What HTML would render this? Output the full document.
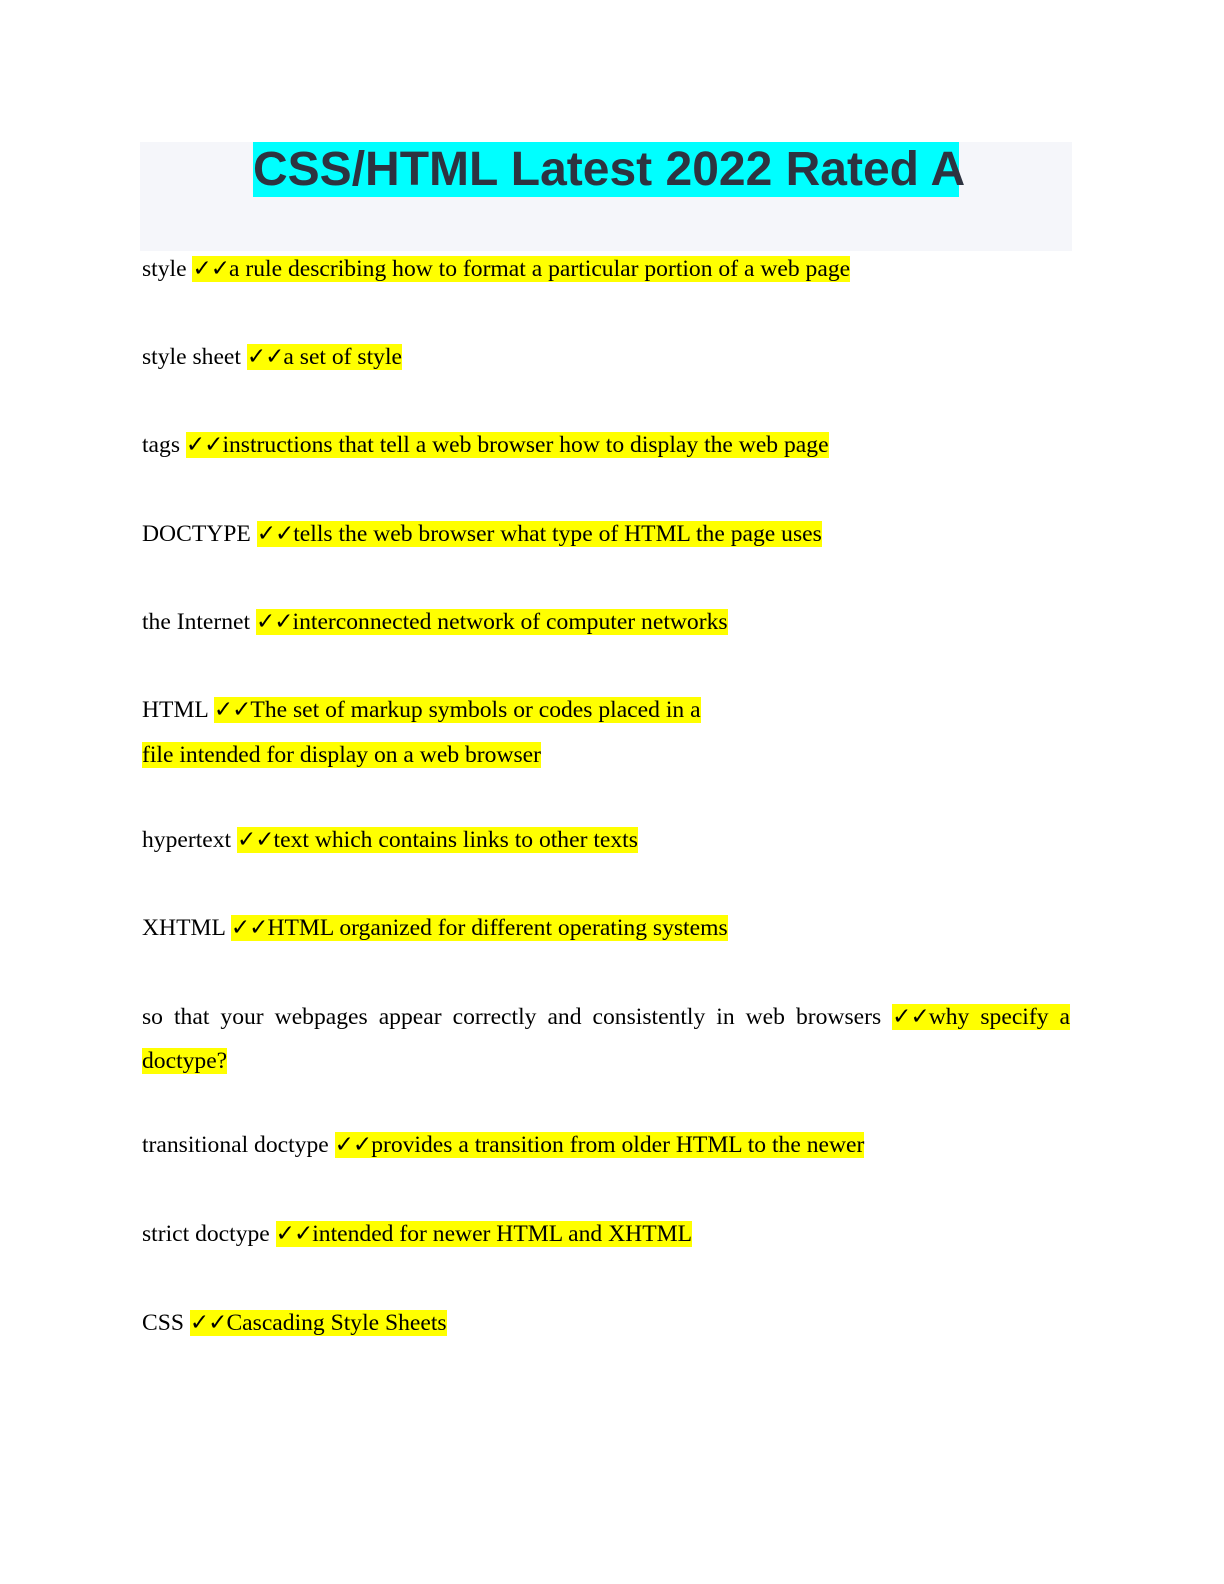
<!DOCTYPE html>
<html><head><meta charset="utf-8"><style>
body{margin:0;width:1224px;height:1584px;background:#fff;position:relative;overflow:hidden}
.hdr{position:absolute;left:140px;top:142px;width:932px;height:109px;background:#f5f6fa}
.t{position:absolute;left:253px;top:142px;height:55px;width:706px;background:#00ffff;font:bold 48px/55px "Liberation Sans",sans-serif;color:#2d3340;white-space:nowrap;text-align:center;overflow:visible}
.l{position:absolute;left:142px;font:23.6px/32px "Liberation Serif",serif;color:#000;white-space:nowrap}
.h{background:#ffff00}
.c{display:inline-block;font-family:"DejaVu Sans",sans-serif;font-size:23px;font-weight:bold;letter-spacing:-1px}
</style></head><body>
<div class="hdr"></div>
<div class="t">CSS/HTML Latest 2022 Rated A</div>
<div class="l" style="top:253px">style <span class="h"><span class="c">✓✓</span>a rule describing how to format a particular portion of a web page</span></div>
<div class="l" style="top:341px">style sheet <span class="h"><span class="c">✓✓</span>a set of style</span></div>
<div class="l" style="top:429px">tags <span class="h"><span class="c">✓✓</span>instructions that tell a web browser how to display the web page</span></div>
<div class="l" style="top:518px">DOCTYPE <span class="h"><span class="c">✓✓</span>tells the web browser what type of HTML the page uses</span></div>
<div class="l" style="top:606px">the Internet <span class="h"><span class="c">✓✓</span>interconnected network of computer networks</span></div>
<div class="l" style="top:694px">HTML <span class="h"><span class="c">✓✓</span>The set of markup symbols or codes placed in a</span></div>
<div class="l" style="top:739px"><span class="h">file intended for display on a web browser</span></div>
<div class="l" style="top:824px">hypertext <span class="h"><span class="c">✓✓</span>text which contains links to other texts</span></div>
<div class="l" style="top:912px">XHTML <span class="h"><span class="c">✓✓</span>HTML organized for different operating systems</span></div>
<div class="l" style="top:1001px;width:928px;white-space:normal;text-align:justify;text-align-last:justify">so that your webpages appear correctly and consistently in web browsers <span class="h"><span class="c">✓✓</span>why specify a</span></div>
<div class="l" style="top:1045px"><span class="h">doctype?</span></div>
<div class="l" style="top:1129px">transitional doctype <span class="h"><span class="c">✓✓</span>provides a transition from older HTML to the newer</span></div>
<div class="l" style="top:1218px">strict doctype <span class="h"><span class="c">✓✓</span>intended for newer HTML and XHTML</span></div>
<div class="l" style="top:1307px">CSS <span class="h"><span class="c">✓✓</span>Cascading Style Sheets</span></div>
</body></html>
